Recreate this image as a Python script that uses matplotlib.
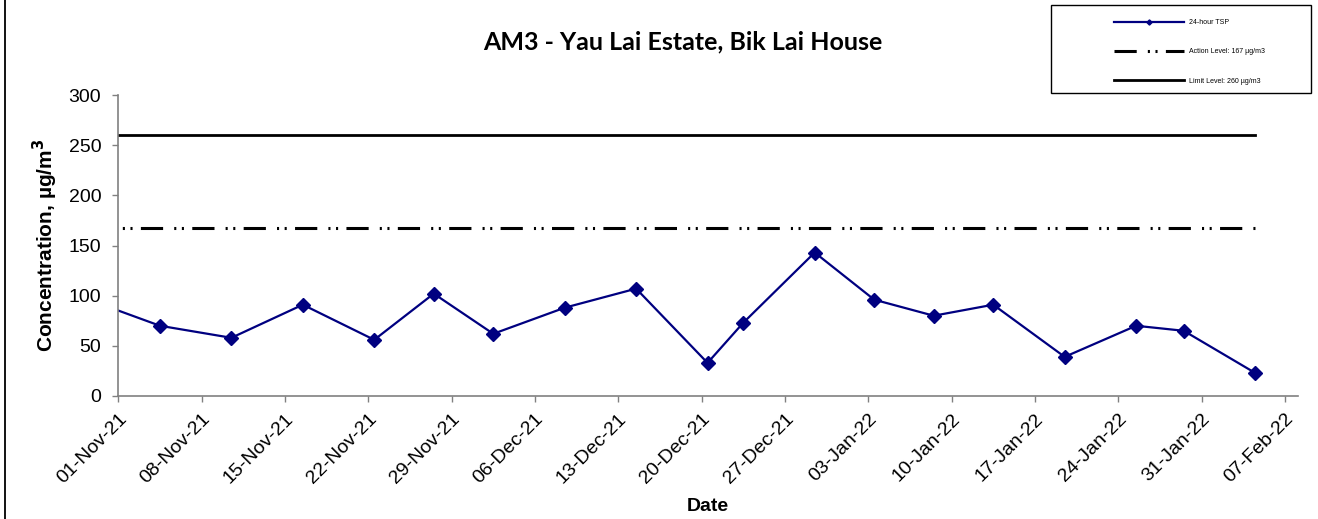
import numpy as np
import pandas as pd
import matplotlib
matplotlib.use("Agg")
import matplotlib.pyplot as plt
import matplotlib.dates as mdates
from matplotlib.lines import Line2D
from matplotlib.patches import Rectangle

# data
dates = ["2021-10-29", "2021-11-04", "2021-11-10", "2021-11-16", "2021-11-22",
         "2021-11-27", "2021-12-02", "2021-12-08", "2021-12-14", "2021-12-20",
         "2021-12-23", "2021-12-29", "2022-01-03", "2022-01-08", "2022-01-13",
         "2022-01-19", "2022-01-25", "2022-01-29", "2022-02-04"]
tsp = [96, 70, 58, 91, 56, 102, 62, 88, 107, 33, 73, 143, 96, 80, 91, 39, 70, 65, 23]
action_level = 167
limit_level = 260
tick_dates = pd.date_range("2021-11-01", "2022-02-07", freq="7D")

# Excel date axis: points sit in the middle of their day
x = pd.to_datetime(dates) + pd.Timedelta(hours=12)

plt.rcParams['font.family'] = ['Liberation Sans', 'DejaVu Sans']
plt.rcParams['lines.scale_dashes'] = False

W, H = 1318, 519
fig = plt.figure(figsize=(W / 100, H / 100), dpi=100)
ax = fig.add_axes([118.3 / W, 1 - 396 / H, (1298 - 118.3) / W, (396 - 95) / H])

ax.plot(x, [limit_level] * len(x), color="black", lw=2.0, label="Limit Level: 260 µg/m3")
ax.plot(x, [action_level] * len(x), color="black", lw=2.2,
        dashes=(16, 8, 1.5, 4, 1.5, 6), label="Action Level: 167 µg/m3")
ax.plot(x, tsp, color="#000080", lw=1.6, marker="D", ms=7.5, label="24-hour TSP")

x0 = pd.Timestamp("2021-11-01")
ax.set_xlim(x0, x0 + pd.Timedelta(days=99.1))
ax.set_ylim(0, 300)
ax.set_yticks(range(0, 301, 50))
ax.set_xticks(tick_dates)
ax.xaxis.set_major_formatter(mdates.DateFormatter("%d-%b-%y"))
for lab in ax.get_xticklabels():
    lab.set_rotation(45)
    lab.set_ha("right")
    lab.set_rotation_mode("anchor")
ax.tick_params(labelsize=14, length=4.3, width=1, color="#808080")
ax.tick_params(axis="y", pad=8)
ax.tick_params(axis="x", pad=6)
for s in ["top", "right"]:
    ax.spines[s].set_visible(False)
for s in ["left", "bottom"]:
    ax.spines[s].set_color("#808080")
    ax.spines[s].set_linewidth(1.2)

ax.set_ylabel("Concentration, µg/m$^\\mathbf{3}$", fontsize=15, fontweight="bold", labelpad=6)
ax.set_xlabel("Date", fontsize=14, fontweight="bold", labelpad=8)

fig.text(683 / W, 1 - 42 / H, "AM3 - Yau Lai Estate, Bik Lai House", ha="center", va="center",
         fontsize=18, fontweight="bold", family=["Lato", "DejaVu Sans"])

# legend box
fig.add_artist(Rectangle((1051 / W, 1 - 93 / H), (1311 - 1051) / W, (93 - 5) / H,
                         transform=fig.transFigure, fill=False, ec="black", lw=1))
handles, labels = ax.get_legend_handles_labels()
order = [2, 1, 0]
leg = fig.legend([handles[i] for i in order], [labels[i] for i in order],
                 loc="upper left", bbox_to_anchor=(1108 / W, 1 - 13 / H), frameon=False,
                 fontsize=5, handlelength=10, handletextpad=0.8, labelspacing=3.2,
                 markerscale=0.35)

# left border line of the chart area
fig.add_artist(Line2D([5 / W, 5 / W], [0, 1], transform=fig.transFigure, color="black", lw=1.3))

fig.savefig("out.png", dpi=100)
